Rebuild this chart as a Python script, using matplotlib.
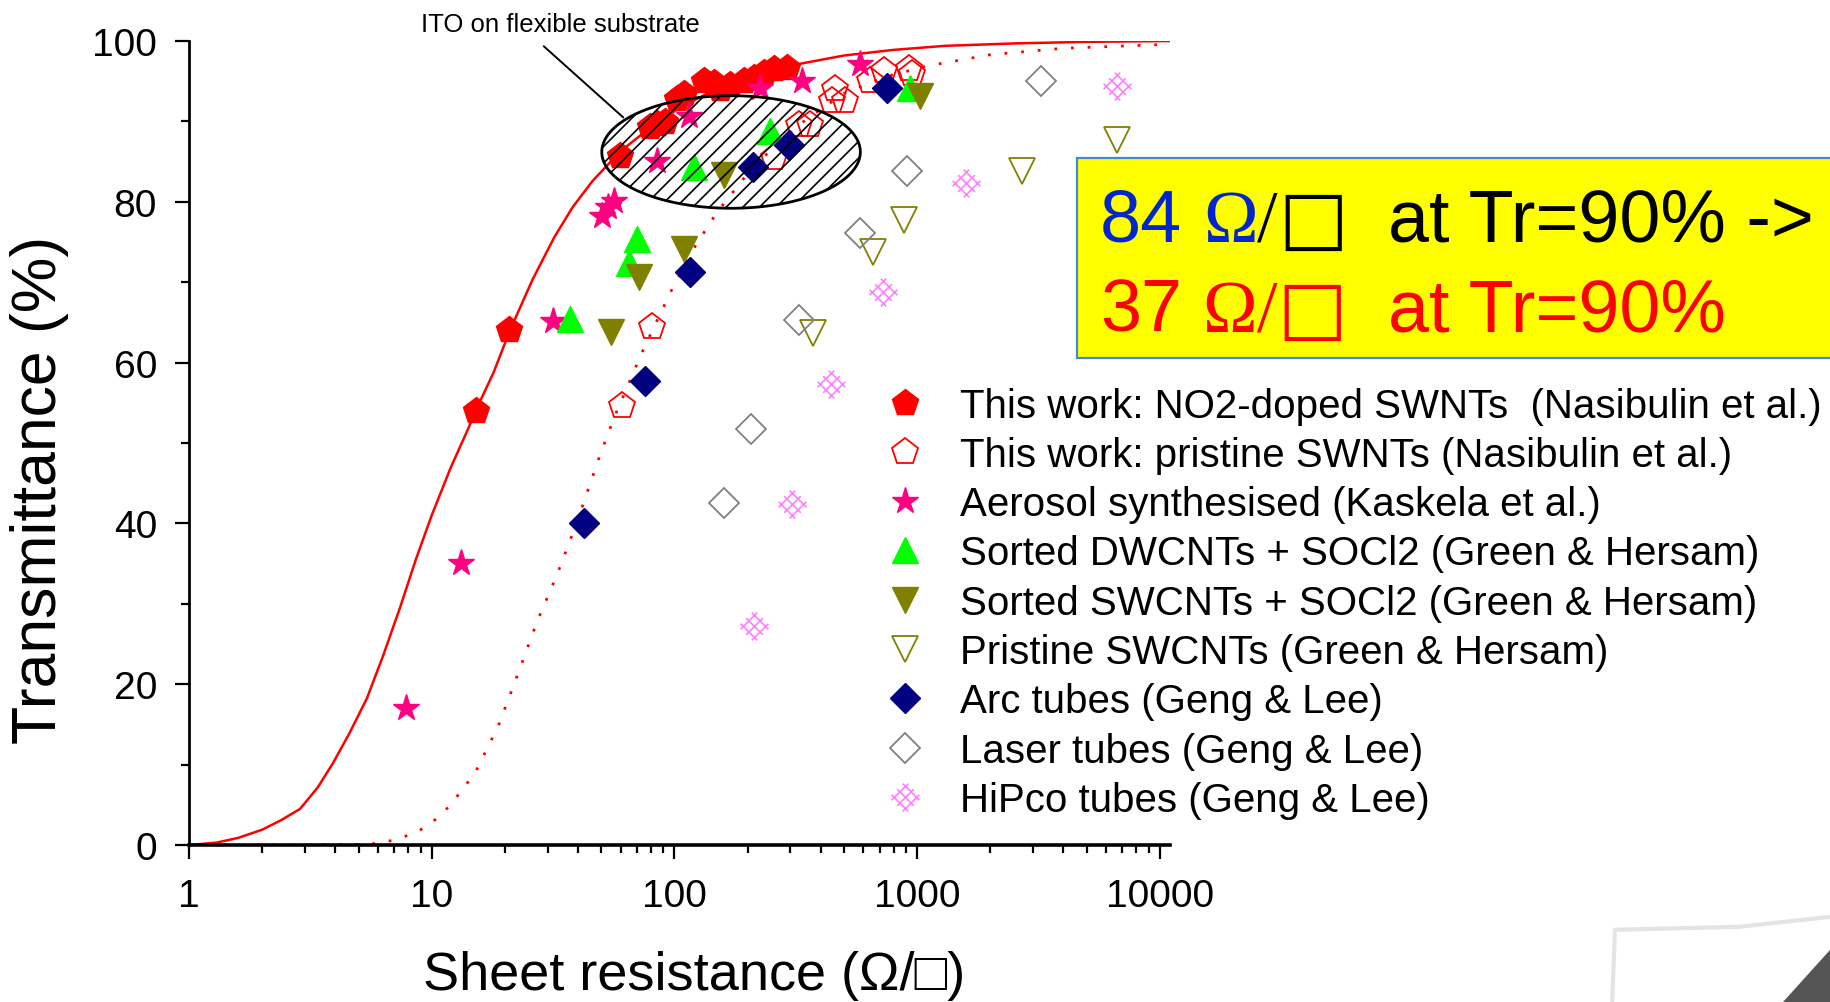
import matplotlib
matplotlib.use("Agg")
import matplotlib.pyplot as plt
import numpy as np
from matplotlib.path import Path
from matplotlib.lines import Line2D
from matplotlib.patches import Rectangle, Polygon
from matplotlib.ticker import MultipleLocator, LogLocator, NullFormatter, FixedLocator, FixedFormatter

plt.rcParams['font.family'] = ['Liberation Sans', 'DejaVu Sans']
plt.rcParams['hatch.linewidth'] = 1.2

# ---- data (sheet resistance in Ohm/sq, transmittance in %) ----
no2_r = [15.2, 20.9, 59.8, 79, 84.6, 91.5, 102, 109, 132, 145, 154, 170, 193, 212, 233, 256, 291]
no2_t = [54.0, 64.1, 85.7, 89.3, 89.7, 89.9, 92.8, 93.4, 95.0, 94.8, 94.0, 94.5, 95.0, 95.4, 96.0, 96.5, 96.7]

pristine_r = [60.8, 80.6, 256, 325, 363, 446, 460, 505, 641, 728, 925, 951]
pristine_t = [54.6, 64.4, 85.5, 89.6, 89.5, 92.5, 94.0, 92.5, 95.0, 96.3, 96.5, 95.9]

aerosol_r = [7.8, 13.2, 31.7, 50.1, 53.0, 56.1, 84.6, 114.5, 226, 335, 580]
aerosol_t = [17.0, 35.1, 65.2, 78.2, 79.3, 80.1, 85.1, 90.7, 94.2, 95.0, 97.1]

dwcnt_r = [37.0, 64.9, 70.0, 120, 248, 937]
dwcnt_t = [65.4, 72.4, 75.4, 84.3, 88.8, 94.2]

swcnt_r = [54.9, 71.1, 109.7, 159.5, 1031]
swcnt_t = [63.8, 70.6, 74.1, 83.3, 93.2]

pris_sw_r = [372, 656, 879, 2706, 6626]
pris_sw_t = [63.7, 73.7, 77.8, 83.8, 87.7]

arc_r = [42.2, 75.8, 116, 210.5, 296, 750]
arc_t = [40.1, 57.7, 71.3, 84.3, 87.1, 94.1]

laser_r = [160.6, 206.7, 327, 583, 907, 3221]
laser_t = [42.5, 51.8, 65.3, 76.1, 83.8, 95.0]

hipco_r = [213, 306, 441, 722, 1589, 6668]
hipco_t = [27.2, 42.4, 57.3, 68.8, 82.4, 94.4]

# fitted curves
fit_no2_r = [1.0, 1.3, 1.6, 2.0, 2.4, 2.87, 3.4, 3.94, 4.6, 5.4, 6.3, 7.4, 8.6, 10, 12, 14, 16, 18, 21,
             26, 32, 38, 46, 60, 80, 105, 150, 210, 320, 500, 800, 1300, 2500, 5000, 11000]
fit_no2_t = [0.0, 0.3, 0.9, 1.9, 3.1, 4.5, 7.2, 10.3, 14.0, 18.2, 23.5, 29.5, 35.5, 41.0, 47.0, 51.5, 55.5,
             58.8, 64.0, 70.3, 75.6, 79.3, 82.6, 86.3, 89.3, 91.7, 94.1, 95.7, 97.1, 98.2, 98.9, 99.4,
             99.7, 99.9, 100.0]

fit_pris_r = [1.0, 3.0, 5.57, 7.0, 8.7, 10.2, 11.9, 15.1, 18.8, 22.8, 27.1, 32.7, 39.6, 48.7, 56.1, 74.6,
              96.1, 121.8, 149.7, 200, 256, 350, 500, 750, 1100, 2000, 4000, 11000]
fit_pris_t = [0.0, 0.0, 0.1, 0.6, 1.6, 3.0, 4.9, 9.0, 14.8, 21.5, 27.7, 33.5, 40.1, 48.0, 53.0, 61.7,
              68.7, 74.5, 78.7, 83.5, 86.8, 90.3, 93.5, 95.6, 96.9, 98.3, 99.1, 99.6]

# ITO region (ellipse)
ito_r = (50.2, 583)
ito_t = (79.2, 93.2)

labels = [
    "This work: NO2-doped SWNTs  (Nasibulin et al.)",
    "This work: pristine SWNTs (Nasibulin et al.)",
    "Aerosol synthesised (Kaskela et al.)",
    "Sorted DWCNTs + SOCl2 (Green & Hersam)",
    "Sorted SWCNTs + SOCl2 (Green & Hersam)",
    "Pristine SWCNTs (Green & Hersam)",
    "Arc tubes (Geng & Lee)",
    "Laser tubes (Geng & Lee)",
    "HiPco tubes (Geng & Lee)",
]

# cross-hatched diamond marker for HiPco (rotated lattice of lines)
verts, codes = [], []
for c in (-0.67, 0, 0.67):
    verts += [((c + 1) / 2, (c - 1) / 2), ((c - 1) / 2, (c + 1) / 2)]
    verts += [((-1 - c) / 2, (-1 + c) / 2), ((1 - c) / 2, (1 + c) / 2)]
    codes += [Path.MOVETO, Path.LINETO, Path.MOVETO, Path.LINETO]
hatch_diamond = Path(verts, codes)

fig = plt.figure(figsize=(18.31, 10.03), dpi=100)
ax = fig.add_axes([0.1032, 0.1565, 0.5358, 0.8016])

ax.plot(fit_no2_r, fit_no2_t, color='red', lw=1.8, zorder=2)
ax.plot(fit_pris_r, fit_pris_t, color='red', lw=2.0, ls=(0, (1, 5)), zorder=2)

styles = [
    (no2_r, no2_t, dict(marker='p', ms=20, color='red', mec='red')),
    (pristine_r, pristine_t, dict(marker='p', ms=20, mfc='none', mec='red', mew=1.3)),
    (aerosol_r, aerosol_t, dict(marker='*', ms=20, color='#FF0080', mec='#FF0080')),
    (dwcnt_r, dwcnt_t, dict(marker='^', ms=19, color='#00FF00', mec='#00FF00')),
    (swcnt_r, swcnt_t, dict(marker='v', ms=19, color='#808000', mec='#808000')),
    (pris_sw_r, pris_sw_t, dict(marker='v', ms=19, mfc='none', mec='#808000', mew=1.3)),
    (arc_r, arc_t, dict(marker='D', ms=15, color='#000080', mec='#000080')),
    (laser_r, laser_t, dict(marker='D', ms=15, mfc='none', mec='#808080', mew=1.3)),
    (hipco_r, hipco_t, dict(marker=hatch_diamond, ms=20, mfc='none', mec='#FF80FF', mew=1.2)),
]
handles = []
for (r, t, st), lab in zip(styles, labels):
    ax.plot(r, t, ls='none', zorder=3, **st)
    handles.append(Line2D([], [], ls='none', label=lab, **st))

# ITO ellipse, drawn in log-x space
th = np.linspace(0, 2 * np.pi, 300)
lc = (np.log10(ito_r[0]) + np.log10(ito_r[1])) / 2
lw_ = (np.log10(ito_r[1]) - np.log10(ito_r[0])) / 2
ex = 10 ** (lc + lw_ * np.cos(th))
ey = (ito_t[0] + ito_t[1]) / 2 + (ito_t[1] - ito_t[0]) / 2 * np.sin(th)
ax.fill(ex, ey, facecolor='none', edgecolor='black', hatch='//', lw=2, zorder=5)

ax.annotate('ITO on flexible substrate', xy=(61.5, 90.5), xycoords='data',
            xytext=(0.306, 0.975), textcoords='figure fraction', ha='center', va='center',
            fontsize=18.5,
            arrowprops=dict(arrowstyle='-', lw=1.4, color='black', relpos=(0.4, 0),
                            shrinkA=8, shrinkB=0),
            annotation_clip=False)

ax.set_xscale('log')
ax.set_xlim(1, 11000)
ax.set_ylim(0, 100)
ax.xaxis.set_major_locator(FixedLocator([1, 10, 100, 1000, 10000]))
ax.xaxis.set_major_formatter(FixedFormatter(['1', '10', '100', '1000', '10000']))
ax.xaxis.set_minor_locator(LogLocator(base=10, subs=np.arange(2, 10)))
ax.xaxis.set_minor_formatter(NullFormatter())
ax.yaxis.set_major_locator(MultipleLocator(20))
ax.yaxis.set_minor_locator(MultipleLocator(10))

for s in ('top', 'right'):
    ax.spines[s].set_visible(False)
ax.spines['left'].set_linewidth(2.0)
ax.spines['bottom'].set_linewidth(2.6)
ax.tick_params(which='major', direction='out', length=10, width=1.6, labelsize=28)
ax.tick_params(which='minor', direction='out', length=6, width=1.6)
ax.tick_params(axis='x', which='major', pad=14)
ax.tick_params(axis='y', which='major', pad=13)

fig.text(0.0215, 0.512, 'Transmittance (%)', rotation=90, ha='center', va='center', fontsize=45)
fig.text(0.379, 0.013, 'Sheet resistance (\u03a9/\u25a1)', ha='center', va='baseline', fontsize=39)

fig.legend(handles=handles, loc='upper left', bbox_to_anchor=(0.4844, 0.6135),
           bbox_transform=fig.transFigure, frameon=False, borderpad=0, borderaxespad=0,
           handlelength=0.9, handletextpad=0.92, labelspacing=0.28, fontsize=29, numpoints=1)

# yellow highlight box with coloured text
fig.patches.append(Rectangle((0.588, 0.642), 0.45, 0.1994, transform=fig.transFigure,
                             facecolor='#FFFF00', edgecolor='#3D8BD4', lw=1.6, zorder=1))

renderer = fig.canvas.get_renderer()
inv = fig.transFigure.inverted()
sans = ['Liberation Sans', 'DejaVu Sans']
serif = ['Liberation Serif', 'DejaVu Serif']
box_fs = 53


def colour_line(x, y, parts):
    for txt, col, fam, gap in parts:
        t = fig.text(x, y, txt, color=col, family=fam, fontsize=box_fs, va='baseline', zorder=3)
        bb = t.get_window_extent(renderer)
        x = inv.transform((bb.x1 + gap * box_fs * 100 / 72, 0))[0]


colour_line(0.6008, 0.759, [('84', '#0026CC', sans, 0.28), ('\u03a9', '#0026CC', serif, 0),
                            ('/', 'black', serif, 0), ('\u25a1', 'black', ['DejaVu Sans'], 0.55),
                            ('at Tr=90% ->', 'black', sans, 0)])
colour_line(0.6008, 0.669, [('37', 'red', sans, 0.28), ('\u03a9', 'red', serif, 0),
                            ('/', 'red', serif, 0), ('\u25a1', 'red', ['DejaVu Sans'], 0.55),
                            ('at Tr=90%', 'red', sans, 0)])

# page curl decoration in the corner
fig.patches.append(Polygon([(0.9738, 0.0), (1.0, 0.053), (1.0, 0.0)], closed=True,
                           transform=fig.transFigure, facecolor='#555555', edgecolor='none'))
fig.lines.append(Line2D([0.8805, 0.882, 0.95, 1.0], [0.0, 0.072, 0.075, 0.085],
                        transform=fig.transFigure, color='#e4e4e4', lw=3))

fig.savefig('out.png', dpi=100)
